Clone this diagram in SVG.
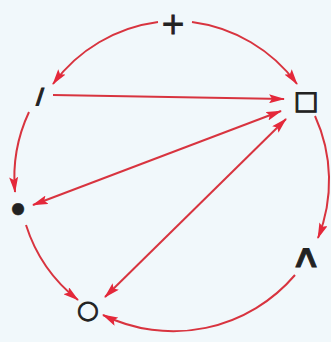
<svg xmlns="http://www.w3.org/2000/svg" width="331" height="342" viewBox="0 0 331 342">
<style>
.bg{fill:#f1f8fb}
.c{fill:none;stroke:#d8343f;stroke-width:2;marker-end:url(#ah)}
.d{fill:none;stroke:#d8343f;stroke-width:2;marker-start:url(#ah);marker-end:url(#ah)}
.t{font-family:"DejaVu Sans",sans-serif;fill:#222;stroke:#222;text-anchor:middle;dominant-baseline:central}
</style>
<defs>
<marker id="ah" markerWidth="16" markerHeight="9" refX="15" refY="4.5" orient="auto-start-reverse" markerUnits="userSpaceOnUse">
<path d="M0,0 L16,4.5 L0,9 L3,4.5 z" fill="#e4283a"/>
</marker>
</defs>
<rect class="bg" width="331" height="342"/>
<g id="connectors">
<path class="c" d="M158,22 A155,155 0 0,0 53,84"/>
<path class="c" d="M192,22 A155,155 0 0,1 297,84"/>
<path class="c" d="M29,112 A155,155 0 0,0 15,192"/>
<path class="c" d="M26,225 A155,155 0 0,0 78,300"/>
<path class="c" d="M315,116 A155,155 0 0,1 318,238"/>
<path class="c" d="M295,275 A160,160 0 0,1 103,315"/>
<path class="c" d="M53,95 L284,99"/>
<path class="d" d="M33,205 L281,111"/>
<path class="d" d="M105,297 L286,119"/>
</g>
<g id="n-plus"><text class="t" x="173" y="23" font-size="30" stroke-width="0.8">+</text></g>
<g id="n-slash"><text class="t" x="40" y="96" font-size="22" font-weight="bold" stroke-width="1">/</text></g>
<g id="n-square"><text class="t" x="306" y="100" font-size="26" stroke-width="1.2">□</text></g>
<g id="n-dot"><text class="t" x="18" y="210" font-size="40" stroke-width="0.5">•</text></g>
<g id="n-wedge"><text class="t" transform="translate(306,256) scale(1.35,1)" font-size="32" stroke-width="0.8">∧</text></g>
<g id="n-circle"><text class="t" x="88" y="309" font-size="25" stroke-width="1">○</text></g>
</svg>
